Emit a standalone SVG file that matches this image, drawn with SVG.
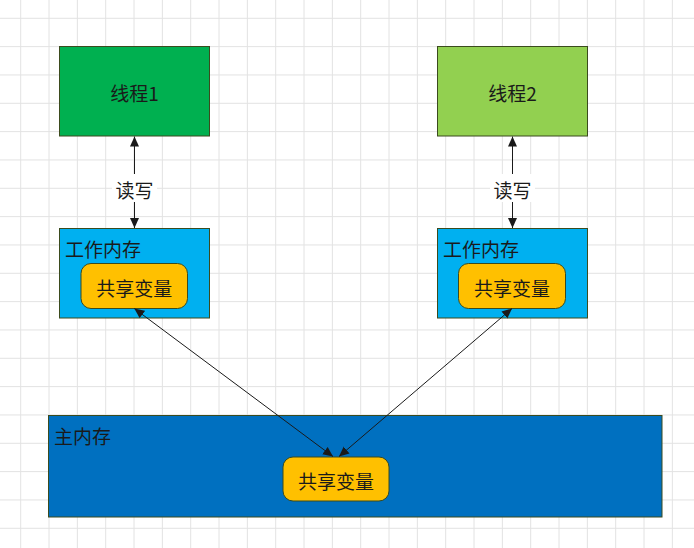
<svg xmlns="http://www.w3.org/2000/svg" width="694" height="548" viewBox="0 0 694 548">
<defs>
<pattern id="grid" patternUnits="userSpaceOnUse" x="20.2" y="17.8" width="28.333" height="28.333">
<path d="M0.5,0 V28.333 M0,0.5 H28.333" fill="none" stroke="#e2e2e2" stroke-width="1"/>
</pattern>
<marker id="arr" viewBox="0 0 10 10" refX="10" refY="5" markerWidth="10" markerHeight="10" markerUnits="userSpaceOnUse" orient="auto-start-reverse">
<path d="M0,0.5 L10,5 L0,9.5 z" fill="#1a1a1a"/>
</marker>
<style>
.box{stroke:#3b4b1e;stroke-width:1}
.t{font-family:"Microsoft YaHei","Noto Sans CJK SC","Noto Sans",sans-serif;font-size:19px;fill:#1a1a1a}
.c{text-anchor:middle;dominant-baseline:central}
.line{stroke:#1a1a1a;stroke-width:1;fill:none;marker-start:url(#arr);marker-end:url(#arr)}
</style>
</defs>
<rect width="694" height="548" fill="#ffffff"/>
<rect width="694" height="548" fill="url(#grid)"/>

<g id="thread1">
<rect class="box" x="59.5" y="46.5" width="150" height="89.5" fill="#00b050"/>
<text class="t c" x="134.5" y="92">线程1</text>
</g>
<g id="thread2">
<rect class="box" x="437.5" y="46.5" width="150" height="89.5" fill="#92d050"/>
<text class="t c" x="512.5" y="92">线程2</text>
</g>
<g id="work1">
<rect class="box" x="59.5" y="228.5" width="150" height="89.5" fill="#00b0f0"/>
<text class="t" x="65" y="256.5">工作内存</text>
</g>
<g id="share1">
<rect class="box" x="81" y="263.5" width="106.5" height="45" rx="10" fill="#ffc000"/>
<text class="t c" x="134.3" y="287">共享变量</text>
</g>
<g id="work2">
<rect class="box" x="437.5" y="228.5" width="150" height="89.5" fill="#00b0f0"/>
<text class="t" x="443" y="256.5">工作内存</text>
</g>
<g id="share2">
<rect class="box" x="458.5" y="263.5" width="107" height="45" rx="10" fill="#ffc000"/>
<text class="t c" x="512" y="287">共享变量</text>
</g>
<g id="main">
<rect class="box" x="48.5" y="415.5" width="613.5" height="101.5" fill="#0070c0"/>
<text class="t" x="54" y="444">主内存</text>
</g>
<g id="share3">
<rect class="box" x="283" y="457" width="106" height="44" rx="10" fill="#ffc000"/>
<text class="t c" x="336" y="480">共享变量</text>
</g>

<g id="connectors">
<line class="line" x1="134.5" y1="136.5" x2="134.5" y2="228"/>
<rect x="112" y="174" width="45" height="28" fill="#ffffff"/>
<text class="t c" x="134.5" y="189">读写</text>
<line class="line" x1="512.5" y1="136.5" x2="512.5" y2="228"/>
<rect x="490" y="174" width="45" height="28" fill="#ffffff"/>
<text class="t c" x="512.5" y="189">读写</text>
<line class="line" x1="134.3" y1="308.5" x2="333" y2="456.5"/>
<line class="line" x1="512" y1="308.5" x2="339" y2="456.5"/>
</g>
</svg>
